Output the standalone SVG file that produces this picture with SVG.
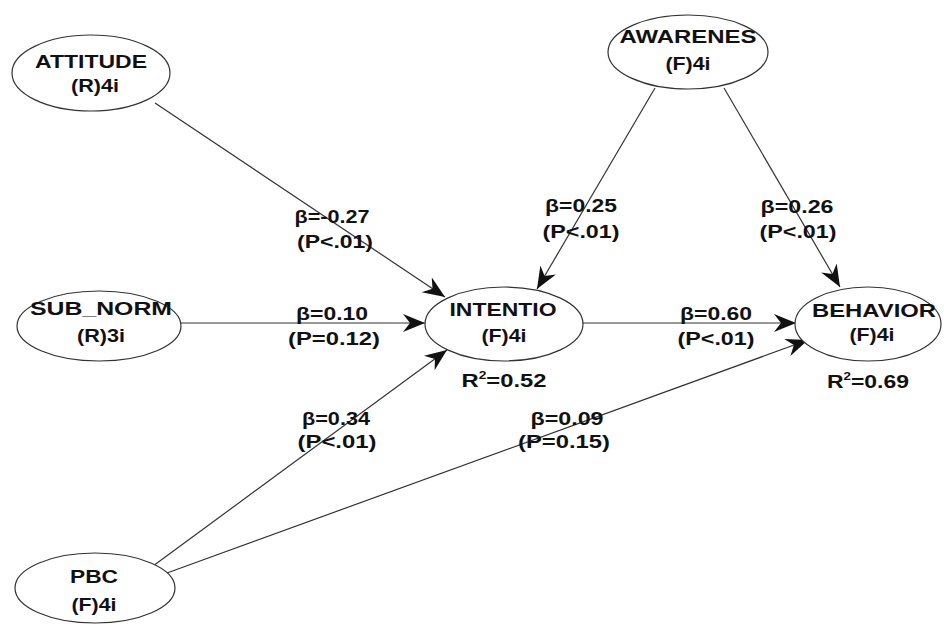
<svg xmlns="http://www.w3.org/2000/svg" width="944" height="627" viewBox="0 0 944 627">
  <style>
    .node ellipse { fill: #ffffff; stroke: #333333; stroke-width: 1.2; }
    .t { font-family: "Liberation Sans", Arial, sans-serif; font-weight: bold; font-size: 19px; fill: #111111; text-anchor: middle; }
    .edge { stroke: #333333; stroke-width: 1.2; fill: none; marker-end: url(#arrow); }
  </style>
  <defs>
    <marker id="arrow" markerUnits="userSpaceOnUse" markerWidth="26" markerHeight="20" refX="22" refY="9" orient="auto">
      <path d="M22,9 L0,0 L7,9 L0,18 Z" fill="#111111"/>
    </marker>
  </defs>
  <rect width="944" height="627" fill="#ffffff"/>

  <!-- connectors -->
  <g id="connectors">
    <line class="edge" x1="155" y1="103" x2="445" y2="297"/>
    <line class="edge" x1="177" y1="323" x2="425" y2="323"/>
    <line class="edge" x1="153" y1="566" x2="447" y2="350"/>
    <line class="edge" x1="167" y1="573" x2="808" y2="340"/>
    <line class="edge" x1="655" y1="88" x2="537" y2="289"/>
    <line class="edge" x1="724" y1="88" x2="840" y2="287"/>
    <line class="edge" x1="583" y1="323" x2="796" y2="323"/>
  </g>

  <!-- path labels -->
  <g id="labels">
    <text class="t" x="332" y="223" textLength="75" lengthAdjust="spacingAndGlyphs">β=-0.27</text>
    <text class="t" x="335" y="248" textLength="76" lengthAdjust="spacingAndGlyphs">(P&lt;.01)</text>
    <text class="t" x="332" y="320" textLength="72" lengthAdjust="spacingAndGlyphs">β=0.10</text>
    <text class="t" x="334" y="345" textLength="92" lengthAdjust="spacingAndGlyphs">(P=0.12)</text>
    <text class="t" x="581" y="212" textLength="72" lengthAdjust="spacingAndGlyphs">β=0.25</text>
    <text class="t" x="581" y="238" textLength="77" lengthAdjust="spacingAndGlyphs">(P&lt;.01)</text>
    <text class="t" x="797" y="213" textLength="73" lengthAdjust="spacingAndGlyphs">β=0.26</text>
    <text class="t" x="798" y="238" textLength="77" lengthAdjust="spacingAndGlyphs">(P&lt;.01)</text>
    <text class="t" x="716" y="320" textLength="72" lengthAdjust="spacingAndGlyphs">β=0.60</text>
    <text class="t" x="716" y="345" textLength="77" lengthAdjust="spacingAndGlyphs">(P&lt;.01)</text>
    <text class="t" x="336" y="425" textLength="68" lengthAdjust="spacingAndGlyphs">β=0.34</text>
    <text class="t" x="337" y="448" textLength="79" lengthAdjust="spacingAndGlyphs">(P&lt;.01)</text>
    <text class="t" x="567" y="425" textLength="73" lengthAdjust="spacingAndGlyphs">β=0.09</text>
    <text class="t" x="564" y="448" textLength="92" lengthAdjust="spacingAndGlyphs">(P=0.15)</text>
  </g>

  <!-- nodes -->
  <g id="attitude" class="node">
    <ellipse cx="91" cy="73" rx="79" ry="38"/>
    <text class="t" x="91" y="68" textLength="112" lengthAdjust="spacingAndGlyphs">ATTITUDE</text>
    <text class="t" x="95" y="92" textLength="48" lengthAdjust="spacingAndGlyphs">(R)4i</text>
  </g>
  <g id="awarenes" class="node">
    <ellipse cx="688" cy="52" rx="80" ry="37"/>
    <text class="t" x="688" y="43" textLength="137" lengthAdjust="spacingAndGlyphs">AWARENES</text>
    <text class="t" x="688" y="70" textLength="45" lengthAdjust="spacingAndGlyphs">(F)4i</text>
  </g>
  <g id="sub_norm" class="node">
    <ellipse cx="99" cy="326" rx="82" ry="35"/>
    <text class="t" x="101" y="315" textLength="142" lengthAdjust="spacingAndGlyphs">SUB_NORM</text>
    <text class="t" x="101" y="342" textLength="48" lengthAdjust="spacingAndGlyphs">(R)3i</text>
  </g>
  <g id="intentio" class="node">
    <ellipse cx="504" cy="324" rx="79" ry="37"/>
    <text class="t" x="503" y="316" textLength="107" lengthAdjust="spacingAndGlyphs">INTENTIO</text>
    <text class="t" x="504" y="342" textLength="45" lengthAdjust="spacingAndGlyphs">(F)4i</text>
    <text class="t" x="504" y="387" textLength="85" lengthAdjust="spacingAndGlyphs">R<tspan font-size="11" dy="-8">2</tspan><tspan dy="8">=0.52</tspan></text>
  </g>
  <g id="behavior" class="node">
    <ellipse cx="868" cy="324" rx="73" ry="37"/>
    <text class="t" x="874" y="317" textLength="124" lengthAdjust="spacingAndGlyphs">BEHAVIOR</text>
    <text class="t" x="872" y="341" textLength="45" lengthAdjust="spacingAndGlyphs">(F)4i</text>
    <text class="t" x="868" y="388" textLength="82" lengthAdjust="spacingAndGlyphs">R<tspan font-size="11" dy="-8">2</tspan><tspan dy="8">=0.69</tspan></text>
  </g>
  <g id="pbc" class="node">
    <ellipse cx="95" cy="588" rx="80" ry="35"/>
    <text class="t" x="94" y="583" textLength="48" lengthAdjust="spacingAndGlyphs">PBC</text>
    <text class="t" x="94" y="611" textLength="45" lengthAdjust="spacingAndGlyphs">(F)4i</text>
  </g>
</svg>
